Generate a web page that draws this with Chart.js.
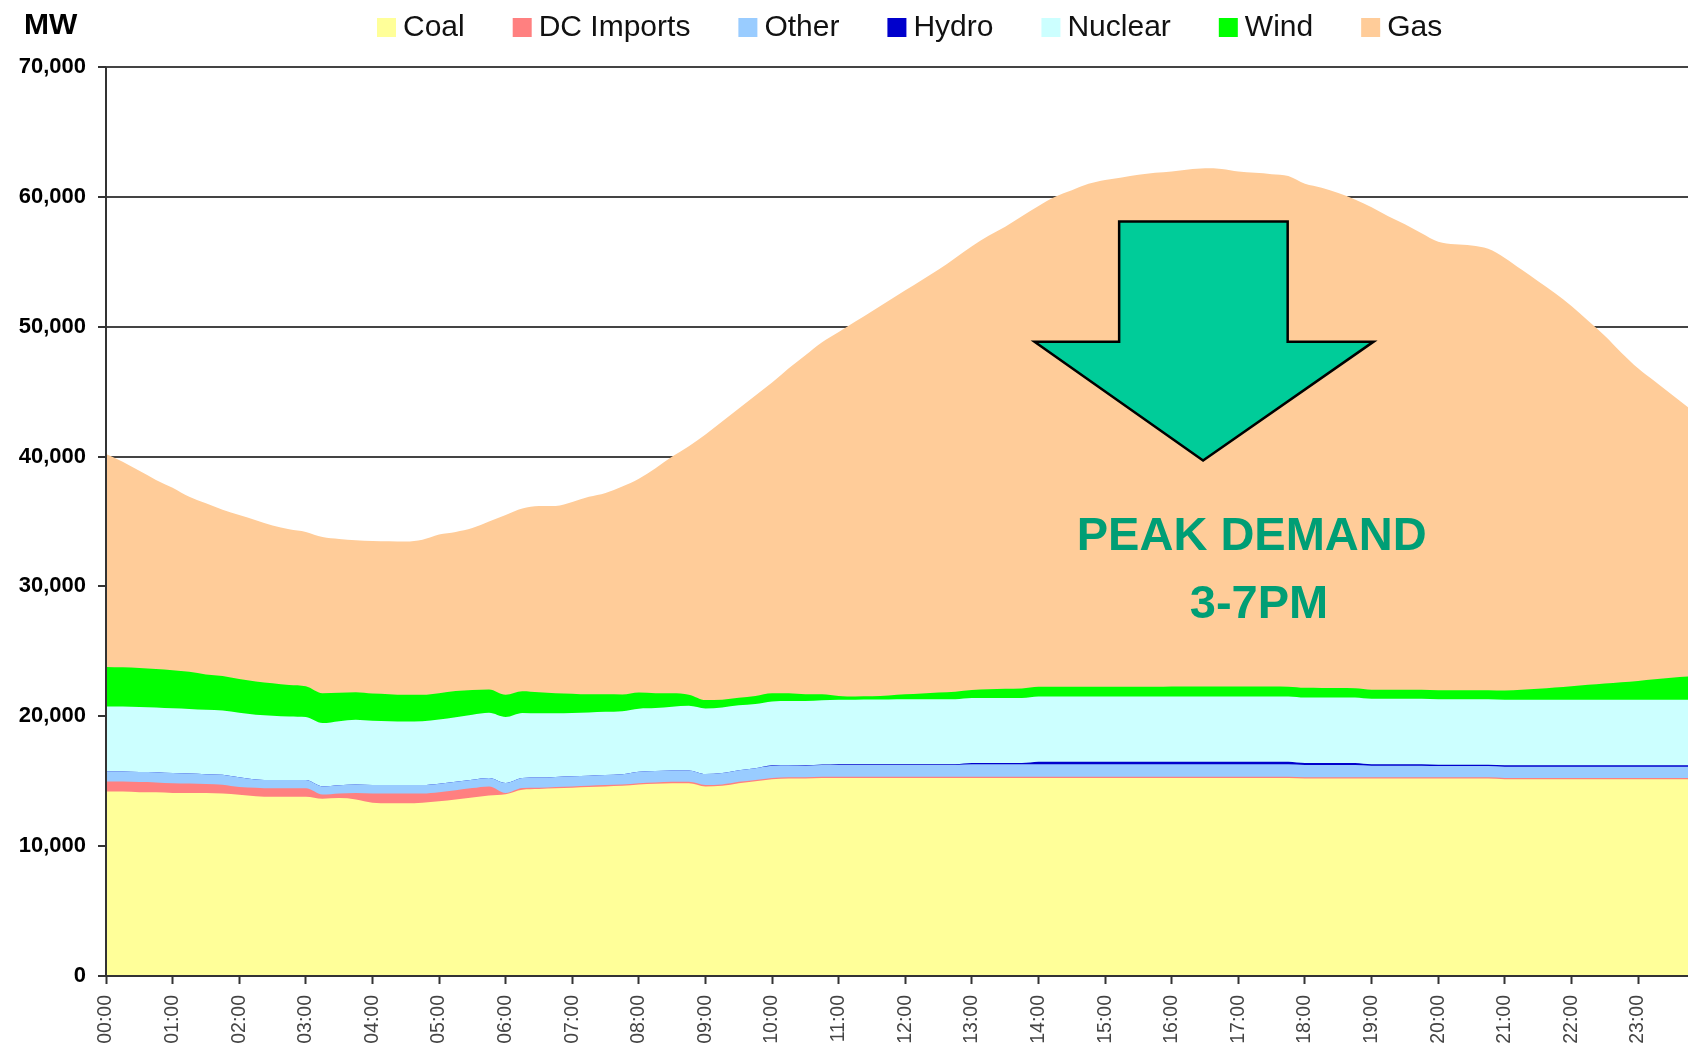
<!DOCTYPE html>
<html>
<head>
<meta charset="utf-8">
<script src="https://cdn.jsdelivr.net/npm/chart.js@4"></script>
<style>
html, body { margin: 0; padding: 0; background: #fff; }
canvas { display: block; }
</style>
</head>
<body>
<canvas id="genChart" width="1688" height="1046"></canvas>
<script>
// hour labels on the x axis, data is in 15 minute slots
const hours = ['00','01','02','03','04','05','06','07','08','09','10','11',
               '12','13','14','15','16','17','18','19','20','21','22','23'];
const quarters = ['00','15','30','45'];
const slots = [];
hours.forEach(h => quarters.forEach(q => slots.push(h + ':' + q)));

const seriesNames = ['Coal','DC Imports','Other','Hydro','Nuclear','Wind','Gas'];
const seriesColors = ['#FFFF99','#FF8080','#99CCFF','#0000CC','#CCFFFF','#00FF00','#FFCC99'];

// MW, stacked bottom to top
const coal = [
  14200,14200,14150,14150,14100,14100,14100,14050,
  13950,13850,13800,13800,13800,13650,13700,13600,
  13350,13300,13300,13350,13450,13600,13750,13900,
  14000,14350,14400,14450,14500,14550,14600,14650,
  14750,14800,14850,14850,14600,14650,14850,15000,
  15150,15200,15200,15250,15250,15250,15250,15250,
  15250,15250,15250,15250,15250,15250,15250,15250,
  15250,15250,15250,15250,15250,15250,15250,15250,
  15250,15250,15250,15250,15250,15250,15250,15250,
  15200,15200,15200,15200,15200,15200,15200,15200,
  15200,15200,15200,15200,15150,15150,15150,15150,
  15150,15150,15150,15150,15150,15150,15150,15150];
const dcImports = [
  780,780,780,760,750,730,680,680,
  600,650,650,650,650,320,350,500,
  700,750,750,700,700,700,720,700,
  90,120,100,100,100,100,100,100,
  100,100,100,100,100,100,100,100,
  100,100,100,100,100,100,100,100,
  100,100,100,100,100,100,100,100,
  100,100,100,100,100,100,100,100,
  100,100,100,100,100,100,100,100,
  100,100,100,100,100,100,100,100,
  100,100,100,100,100,100,100,100,
  100,100,100,100,100,100,100,100];
const other = [
  770,770,780,780,780,770,760,760,
  750,640,640,640,640,630,640,650,
  650,650,650,650,650,650,650,650,
  770,780,780,780,780,780,780,780,
  880,880,880,880,850,880,900,900,
  940,920,900,900,900,900,900,900,
  900,900,900,900,950,950,950,950,
  950,950,950,950,950,950,950,950,
  950,950,950,950,950,950,950,950,
  950,950,950,950,900,900,900,900,
  870,870,870,870,870,870,870,870,
  870,870,870,870,870,870,870,870];
const hydro = [
  0,0,0,0,0,0,0,0,
  0,0,0,0,0,0,0,0,
  0,0,0,0,0,0,0,0,
  0,0,0,0,0,0,0,0,
  0,0,0,0,0,0,0,0,
  30,30,30,30,60,60,60,60,
  60,60,60,60,100,100,100,100,
  200,200,200,200,200,200,200,200,
  200,200,200,200,200,200,200,200,
  150,150,150,150,100,100,100,100,
  100,100,100,100,100,100,100,100,
  100,100,100,100,100,100,100,100];
const nuclear = [
  5000,5000,5000,4990,4980,4970,4960,4960,
  4970,4975,4950,4900,4850,4875,4930,4980,
  4950,4920,4900,4920,4950,4980,5000,5020,
  5080,5000,4950,4900,4880,4860,4860,4850,
  4850,4850,4900,4980,5050,5050,5000,4950,
  4920,4930,4950,4960,4960,4970,4980,4990,
  5000,5000,5000,5000,5000,5000,5000,5000,
  5020,5020,5020,5020,5020,5020,5020,5020,
  5030,5030,5030,5030,5030,5030,5030,5030,
  5050,5050,5050,5050,5050,5050,5050,5050,
  5050,5050,5050,5050,5050,5050,5050,5050,
  5050,5050,5050,5050,5050,5050,5050,5050];
const wind = [
  3050,3020,3000,2960,2930,2850,2720,2650,
  2600,2570,2500,2420,2370,2300,2200,2120,
  2100,2080,2050,2030,2020,2010,1900,1800,
  1720,1680,1620,1550,1480,1400,1350,1300,
  1250,1150,1050,850,650,600,580,620,
  640,600,520,450,300,250,250,300,
  380,450,520,580,620,680,720,740,
  750,750,750,750,760,760,760,760,
  770,770,770,770,770,770,760,750,
  740,730,720,710,700,690,690,690,
  690,690,690,690,720,780,850,950,
  1050,1150,1250,1350,1450,1580,1700,1790];
const gas = [
  16400,15830,15190,14560,14060,13480,13180,12800,
  12630,12415,12160,11990,11890,12025,11830,11700,
  11750,11780,11810,11950,12230,12260,12480,12930,
  13840,14070,14350,14420,14760,15210,15510,16020,
  16470,17320,18220,19140,20450,21420,22270,23130,
  23920,25020,26100,27110,28030,28870,29660,30400,
  31110,31840,32570,33410,34180,34920,35580,36360,
  37030,37730,38230,38730,39020,39220,39420,39570,
  39650,39800,39900,39850,39650,39550,39460,39320,
  38810,38520,38130,37640,37150,36460,35860,35160,
  34540,34340,34240,33990,33310,32350,31380,30380,
  29280,28030,26780,25380,24080,22950,21830,20740];

const seriesData = [coal, dcImports, other, hydro, nuclear, wind, gas];

// arrow outline in [hour, MW]
const arrowShape = [[15.21,58100],[17.74,58100],[17.74,48850],[19.03,48850],
                    [16.47,39700],[13.94,48850],[15.21,48850]];
const noteLines = [['PEAK DEMAND', 17.2, 32800], ['3-7PM', 17.31, 27550]];

const FONT = '"Liberation Sans", Arial, Helvetica, sans-serif';
Chart.defaults.font.family = FONT;

const overlay = {
  id: 'overlay',
  afterDatasetsDraw(chart) {
    const ctx = chart.ctx, a = chart.chartArea;
    const xs = chart.scales.x, ys = chart.scales.y;
    const px = h => xs.getPixelForValue(h * 4);
    ctx.save();
    // axes on top of the areas
    ctx.strokeStyle = '#333';
    ctx.lineWidth = 2;
    ctx.beginPath();
    ctx.moveTo(a.left, a.top);
    ctx.lineTo(a.left, a.bottom);
    ctx.lineTo(a.right, a.bottom);
    ctx.stroke();

    // peak demand arrow
    ctx.beginPath();
    arrowShape.forEach((p, i) => {
      const X = px(p[0]), Y = ys.getPixelForValue(p[1]);
      if (i === 0) ctx.moveTo(X, Y); else ctx.lineTo(X, Y);
    });
    ctx.closePath();
    ctx.fillStyle = '#00CC99';
    ctx.fill();
    ctx.strokeStyle = '#000';
    ctx.lineWidth = 2.5;
    ctx.lineJoin = 'miter';
    ctx.stroke();

    ctx.fillStyle = '#009E75';
    ctx.font = 'bold 47px ' + FONT;
    ctx.textAlign = 'center';
    ctx.textBaseline = 'alphabetic';
    noteLines.forEach(n => ctx.fillText(n[0], px(n[1]), ys.getPixelForValue(n[2])));
    ctx.restore();
  },
  afterDraw(chart) {
    const ctx = chart.ctx;
    ctx.save();
    ctx.fillStyle = '#000';
    ctx.font = 'bold 30px ' + FONT;
    ctx.textAlign = 'left';
    ctx.textBaseline = 'alphabetic';
    ctx.fillText('MW', 24, 34);

    // legend
    ctx.font = '30px ' + FONT;
    let x = 377;
    chart.data.datasets.forEach(ds => {
      ctx.fillStyle = ds.backgroundColor;
      ctx.fillRect(x, 18, 19, 19);
      ctx.fillStyle = '#111';
      ctx.fillText(ds.label, x + 26, 36);
      x += 26 + ctx.measureText(ds.label).width + 48;
    });
    ctx.restore();
  }
};

const ctx = document.getElementById('genChart').getContext('2d');
const chart = new Chart(ctx, {
  type: 'line',
  data: {
    labels: slots,
    datasets: seriesNames.map((name, i) => ({
      label: name,
      data: seriesData[i],
      backgroundColor: seriesColors[i],
      borderColor: 'rgba(0,0,0,0)',
      borderWidth: 0,
      pointRadius: 0,
      cubicInterpolationMode: 'monotone',
      fill: 'origin'
    }))
  },
  options: {
    responsive: false,
    animation: false,
    devicePixelRatio: 1,
    layout: { padding: { top: 67, left: 0, right: 0, bottom: 0 } },
    plugins: {
      legend: { display: false },
      tooltip: { enabled: false }
    },
    scales: {
      x: {
        type: 'category',
        offset: false,
        border: { display: false },
        grid: {
          drawOnChartArea: false,
          drawTicks: true,
          tickLength: 8,
          tickColor: '#333',
          tickWidth: 2
        },
        ticks: {
          autoSkip: false,
          maxRotation: 90,
          minRotation: 90,
          padding: 11,
          color: '#444',
          font: { size: 19.5 },
          callback: function (val, i) {
            return i % 4 === 0 ? this.getLabelForValue(val) : null;
          }
        },
        afterFit(s) {
          s.height = 70;
          s.paddingLeft = 0;
          s.paddingRight = 0;
        }
      },
      y: {
        stacked: true,
        min: 0,
        max: 70000,
        border: { display: false },
        grid: {
          color: '#444',
          lineWidth: 2,
          drawTicks: true,
          tickLength: 8,
          tickColor: '#333'
        },
        ticks: {
          stepSize: 10000,
          padding: 12,
          color: '#000',
          font: { size: 22, weight: 'bold' },
          callback: v => v.toLocaleString('en-US')
        },
        afterFit(s) {
          s.width = 106;
          s.paddingTop = 0;
          s.paddingBottom = 0;
        }
      }
    }
  },
  plugins: [overlay]
});
</script>
</body>
</html>
